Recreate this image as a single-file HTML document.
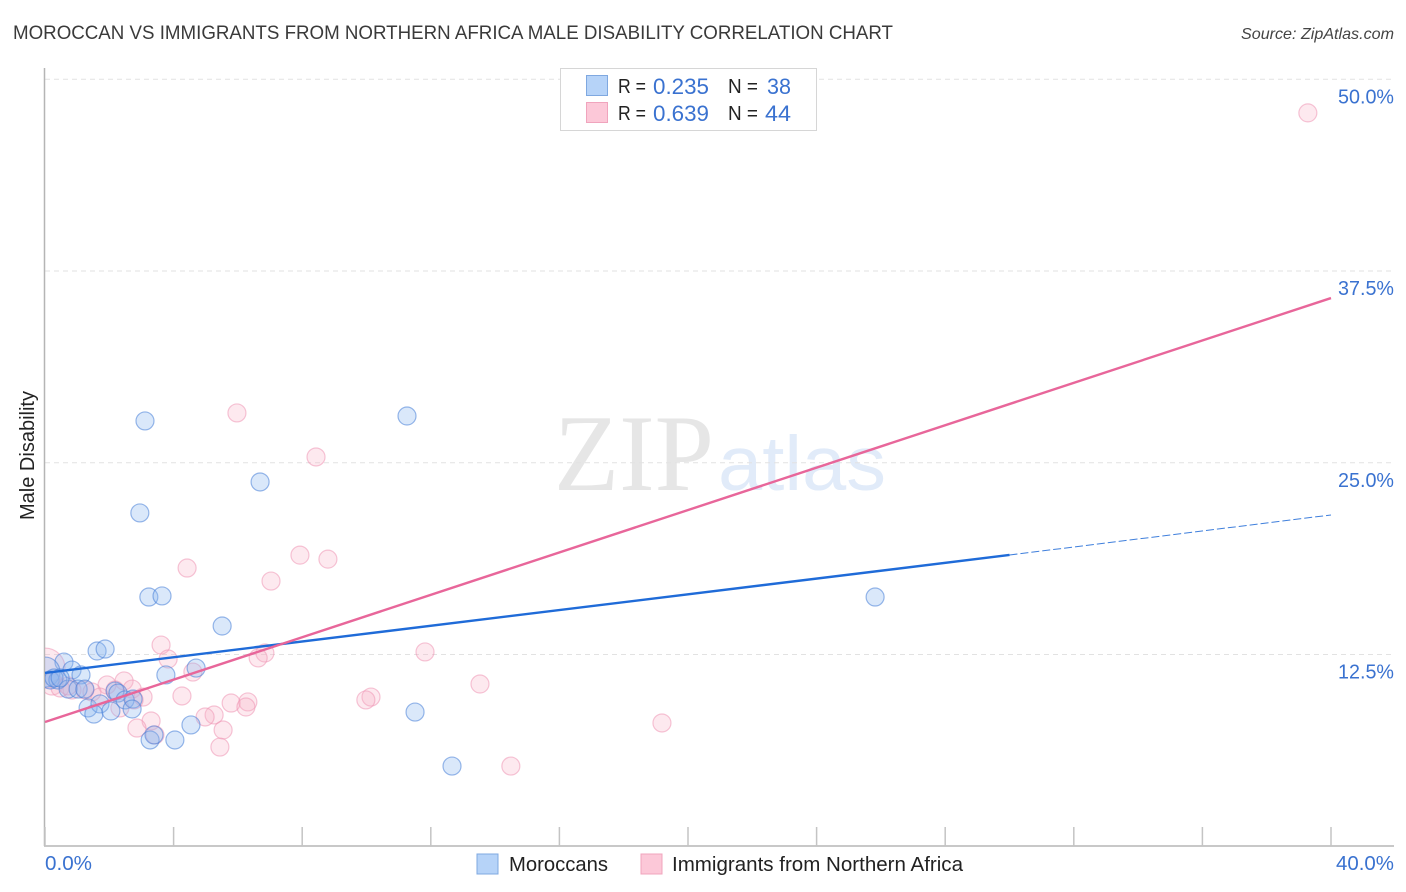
<!DOCTYPE html>
<html>
<head>
<meta charset="utf-8">
<style>
html,body{margin:0;padding:0;background:#fff;width:1406px;height:892px;overflow:hidden}
svg{display:block;font-family:"Liberation Sans",sans-serif}
</style>
</head>
<body>
<svg id="chart" width="1406" height="892" viewBox="0 0 1406 892">
  <defs><clipPath id="plot-clip"><rect x="45" y="60" width="1349" height="786"/></clipPath></defs>
  <text x="13" y="39" font-size="19" fill="#3a3a3a" textLength="880" lengthAdjust="spacingAndGlyphs">MOROCCAN VS IMMIGRANTS FROM NORTHERN AFRICA MALE DISABILITY CORRELATION CHART</text>
  <text x="1394" y="39" font-size="16" font-style="italic" fill="#444" text-anchor="end" textLength="153" lengthAdjust="spacingAndGlyphs">Source: ZipAtlas.com</text>
  <text x="554" y="490" font-family="Liberation Serif" font-size="109" fill="#e6e6e6" textLength="160" lengthAdjust="spacingAndGlyphs">ZIP</text>
  <text x="718" y="490" font-size="77" fill="#e1ebf9" textLength="168" lengthAdjust="spacingAndGlyphs">atlas</text>
  <g id="grid"></g>
  <g id="axes"></g>
  <g id="points" clip-path="url(#plot-clip)"></g>
  <g id="lines"></g>
  <text transform="translate(34,455.5) rotate(-90)" font-size="20" fill="#222" text-anchor="middle" textLength="129" lengthAdjust="spacingAndGlyphs">Male Disability</text>
  <g>
    <rect x="560.5" y="68.5" width="256" height="62" fill="#fff" stroke="#d6d6d6"/>
    <rect x="586.5" y="75.5" width="21" height="20" fill="#b6d3f8" stroke="#7fa8e0"/>
    <rect x="586.5" y="102.5" width="21" height="20" fill="#fcc8d8" stroke="#f0a4bd"/>
    <text x="618" y="93" font-size="20" fill="#222" textLength="28" lengthAdjust="spacingAndGlyphs">R =</text>
    <text x="653" y="94" font-size="22" fill="#3a72d0" textLength="56" lengthAdjust="spacingAndGlyphs">0.235</text>
    <text x="728" y="93" font-size="20" fill="#222" textLength="30" lengthAdjust="spacingAndGlyphs">N =</text>
    <text x="767" y="94" font-size="22" fill="#3a72d0" textLength="24" lengthAdjust="spacingAndGlyphs">38</text>
    <text x="618" y="120" font-size="20" fill="#222" textLength="28" lengthAdjust="spacingAndGlyphs">R =</text>
    <text x="653" y="121" font-size="22" fill="#3a72d0" textLength="56" lengthAdjust="spacingAndGlyphs">0.639</text>
    <text x="728" y="120" font-size="20" fill="#222" textLength="30" lengthAdjust="spacingAndGlyphs">N =</text>
    <text x="765" y="121" font-size="22" fill="#3a72d0" textLength="26" lengthAdjust="spacingAndGlyphs">44</text>
  </g>
  <g>
    <rect x="477" y="854" width="21" height="20" fill="#b6d3f8" stroke="#7fa8e0"/>
    <text x="509" y="871" font-size="20" fill="#222" textLength="99" lengthAdjust="spacingAndGlyphs">Moroccans</text>
    <rect x="641" y="854" width="21" height="20" fill="#fcc8d8" stroke="#f0a4bd"/>
    <text x="672" y="871" font-size="20" fill="#222" textLength="291" lengthAdjust="spacingAndGlyphs">Immigrants from Northern Africa</text>
  </g>
</svg>
<script>
const xTicks = [0,4,8,12,16,20,24,28,32,36,40];
const yTicks = [12.5,25,37.5,50];
const yTickLabels = ['12.5%','25.0%','37.5%','50.0%'];
const xEndLabels = ['0.0%','40.0%'];
const blueX = [3.11,11.26,6.69,2.95,3.23,3.64,25.82,5.51,1.62,1.87,0.59,0.84,1.12,3.76,4.70,0,0.16,0.40,0.28,0.72,1.03,1.24,2.18,2.27,2.49,2.74,2.71,1.34,1.71,1.52,2.05,11.51,4.54,3.27,3.39,4.04,12.66,0.47];
const blueY = [27.73,28.05,23.75,21.73,16.25,16.32,16.25,14.36,12.73,12.86,12.01,11.49,11.17,11.17,11.62,11.36,10.84,10.84,10.97,10.25,10.25,10.25,10.12,9.99,9.54,9.60,8.95,9.02,9.28,8.62,8.82,8.75,7.91,6.93,7.26,6.93,5.23,10.97];
const blueR = [9,9,9,9,9,9,9,9,9,9,9,9,9,9,9,15,9,9,9,9,9,9,9,9,9,9,9,9,9,9,9,9,9,9,9,9,9,9];
const pinkX = [39.28,5.97,8.43,7.93,8.80,4.42,7.03,3.61,3.83,6.84,6.63,11.82,4.60,13.53,4.26,1.93,2.46,2.71,3.05,2.77,10.14,9.98,5.79,6.31,6.25,5.26,4.98,2.33,3.30,2.86,19.19,5.54,3.42,5.44,14.49,0,0.22,0.47,0.84,1.24,1.46,1.71,2.18,0.72];
const pinkY = [47.81,28.25,25.38,18.98,18.72,18.14,17.29,13.12,12.21,12.60,12.28,12.67,11.36,10.58,9.80,10.52,10.78,10.25,9.73,9.54,9.73,9.54,9.34,9.41,9.08,8.56,8.43,9.02,8.17,7.71,8.04,7.58,7.26,6.47,5.23,11.62,10.58,10.32,10.19,10.19,10.06,9.73,10.19,10.45];
const pinkR = [9,9,9,9,9,9,9,9,9,9,9,9,9,9,9,9,9,9,9,9,9,9,9,9,9,9,9,9,9,9,9,9,9,9,9,20,11,9,9,9,9,9,9,9];
const blueTrendX = [0,30];
const blueTrendY = [11.30,18.99];
const blueDashX = [30,40];
const blueDashY = [18.99,21.6];
const pinkTrendX = [0,40];
const pinkTrendY = [8.10,35.74];

const NS = 'http://www.w3.org/2000/svg';
const sx = v => 45 + v * 32.15;
const sy = v => 846.3 - v * 15.34;
function mk(parent, tag, attrs, text) {
  const el = document.createElementNS(NS, tag);
  for (const k in attrs) el.setAttribute(k, attrs[k]);
  if (text !== undefined) el.textContent = text;
  document.getElementById(parent).appendChild(el);
  return el;
}

yTicks.forEach((v, i) => {
  const g = mk('grid', 'line', {x1:45, x2:1394, y1:sy(v), y2:sy(v), stroke:'#e2e2e2', 'stroke-width':1, 'stroke-dasharray':'5 4'});
  
  
  const t = mk('axes', 'text', {x:1394, y:sy(v) + 24, 'text-anchor':'end', 'font-size':20, fill:'#3a72d0', textLength:56, lengthAdjust:'spacingAndGlyphs'}, yTickLabels[i]);
  
  
});

const yAxis = mk('axes', 'line', {x1:44.5, x2:44.5, y1:68, y2:846, stroke:'#b5b5b5', 'stroke-width':1.5});


const xAxis = mk('axes', 'line', {x1:44, x2:1394, y1:846, y2:846, stroke:'#b5b5b5', 'stroke-width':1.5});



xTicks.forEach(v => {
  const t = mk('axes', 'line', {x1:sx(v), x2:sx(v), y1:827, y2:846, stroke:'#c4c4c4', 'stroke-width':1.5});
  
  
});

const xl0 = mk('axes', 'text', {x:45, y:870, 'font-size':20, fill:'#3a72d0', textLength:47, lengthAdjust:'spacingAndGlyphs'}, xEndLabels[0]);


const xl1 = mk('axes', 'text', {x:1394, y:870, 'text-anchor':'end', 'font-size':20, fill:'#3a72d0', textLength:58, lengthAdjust:'spacingAndGlyphs'}, xEndLabels[1]);



pinkX.forEach((v, i) => {
  const c = mk('points', 'circle', {cx:sx(v), cy:sy(pinkY[i]), r:pinkR[i], fill:'rgba(248,175,198,0.28)', stroke:'rgba(238,150,180,0.55)', 'stroke-width':1.2});
  
  
});
blueX.forEach((v, i) => {
  const c = mk('points', 'circle', {cx:sx(v), cy:sy(blueY[i]), r:blueR[i], fill:'rgba(140,185,240,0.32)', stroke:'rgba(70,125,215,0.55)', 'stroke-width':1.2});
  
  
});

const l1 = mk('lines', 'line', {x1:sx(blueTrendX[0]), y1:sy(blueTrendY[0]), x2:sx(blueTrendX[1]), y2:sy(blueTrendY[1]), stroke:'#1f6bd8', 'stroke-width':2.4});


const l2 = mk('lines', 'line', {x1:sx(blueDashX[0]), y1:sy(blueDashY[0]), x2:sx(blueDashX[1]), y2:sy(blueDashY[1]), stroke:'#3f7fdc', 'stroke-width':1, 'stroke-dasharray':'8 3'});


const l3 = mk('lines', 'line', {x1:sx(pinkTrendX[0]), y1:sy(pinkTrendY[0]), x2:sx(pinkTrendX[1]), y2:sy(pinkTrendY[1]), stroke:'#e8669a', 'stroke-width':2.4});


</script>
</body>
</html>
